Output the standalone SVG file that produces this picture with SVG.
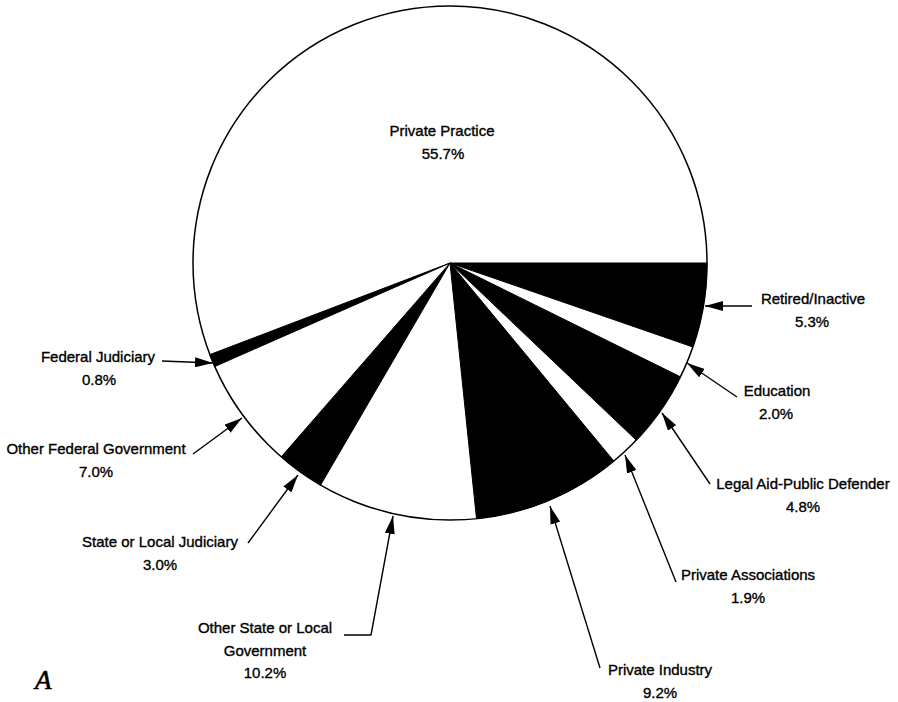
<svg xmlns="http://www.w3.org/2000/svg" width="898" height="702" viewBox="0 0 898 702">
<defs>
<marker id="ah" viewBox="0 0 18 10" refX="18" refY="5" markerWidth="18" markerHeight="10" markerUnits="userSpaceOnUse" orient="auto">
<path d="M0,0 L18,5 L0,10 Z" fill="#000"/>
</marker>
<style>
text{font-family:"Liberation Sans",Arial,sans-serif;font-size:15px;fill:#000;stroke:#000;stroke-width:0.35;text-anchor:middle}
.lead{fill:none;stroke:#000;stroke-width:1.4}
.arr{marker-end:url(#ah)}
.wedge{fill:#000;stroke:#000;stroke-width:1}
.ital{font-family:"Liberation Serif","Times New Roman",serif;font-style:italic;font-size:27px;stroke-width:0.6;text-anchor:start}
</style>
</defs>
<rect width="898" height="702" fill="#fff"/>
<g id="pie">
<circle cx="450" cy="263" r="257" fill="#fff" stroke="#000" stroke-width="1.5"/>
</g>
<g id="retired-inactive">
<path class="wedge" d="M450,263 L707,263 A257,257 0 0 1 692.9,347 Z"/>
<text x="813" y="304">Retired/Inactive</text>
<text x="812" y="327">5.3%</text>
</g>
<g id="education">
<text x="777" y="396">Education</text>
<text x="776" y="419">2.0%</text>
</g>
<g id="legal-aid">
<path class="wedge" d="M450,263 L680.4,376.8 A257,257 0 0 1 636.2,440.1 Z"/>
<text x="803" y="489">Legal Aid-Public Defender</text>
<text x="803" y="512">4.8%</text>
</g>
<g id="private-associations">
<text x="748" y="580">Private Associations</text>
<text x="748" y="603">1.9%</text>
</g>
<g id="private-industry">
<path class="wedge" d="M450,263 L613.8,461 A257,257 0 0 1 476.5,518.6 Z"/>
<text x="660" y="675">Private Industry</text>
<text x="660" y="698">9.2%</text>
</g>
<g id="other-state-local-government">
<text x="265" y="633">Other State or Local</text>
<text x="265" y="656">Government</text>
<text x="265" y="678">10.2%</text>
</g>
<g id="state-local-judiciary">
<path class="wedge" d="M450,263 L320.6,485 A257,257 0 0 1 281.3,456.8 Z"/>
<text x="160" y="547">State or Local Judiciary</text>
<text x="160" y="570">3.0%</text>
</g>
<g id="other-federal-government">
<text x="96" y="454">Other Federal Government</text>
<text x="96" y="477">7.0%</text>
</g>
<g id="federal-judiciary">
<path class="wedge" d="M450,263 L214.8,366.5 A257,257 0 0 1 209.9,354.6 Z"/>
<text x="98" y="362">Federal Judiciary</text>
<text x="99" y="385">0.8%</text>
</g>
<g id="private-practice">
<text x="442" y="136">Private Practice</text>
<text x="443" y="159">55.7%</text>
</g>
<g id="connectors">
<path class="lead arr" d="M752,306 L705,306"/>
<path class="lead arr" d="M737,397 L687,363"/>
<path class="lead arr" d="M710,484 L662,413"/>
<path class="lead arr" d="M676,582 L625,455"/>
<path class="lead arr" d="M600,668 L550,506"/>
<path class="lead arr" d="M344,635 L371,635 L393,516"/>
<path class="lead arr" d="M248,543 L298,475"/>
<path class="lead arr" d="M193,454 L242,418"/>
<path class="lead arr" d="M162,361 L213,363"/>
</g>
<text class="ital" x="35" y="689">A</text>
</svg>
